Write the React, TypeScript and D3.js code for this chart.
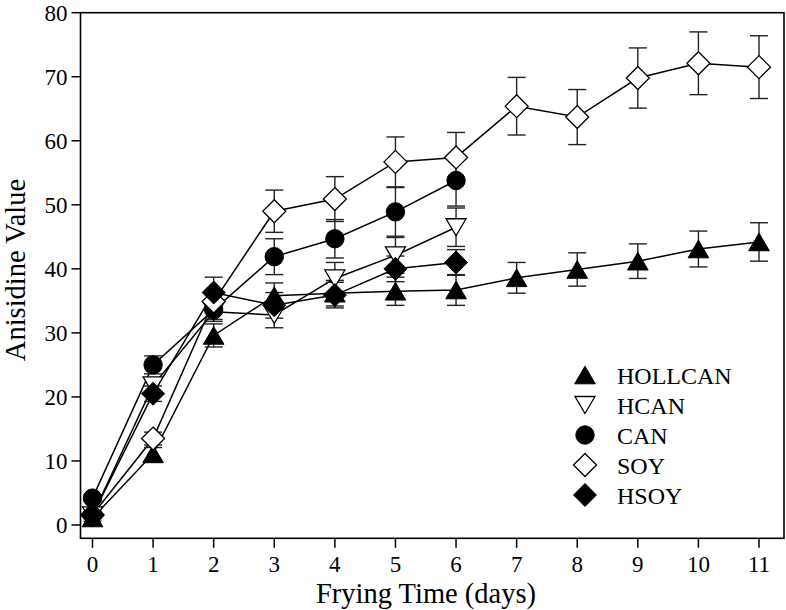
import React from "react";
import * as d3 from "d3";

const days = [0, 1, 2, 3, 4, 5, 6, 7, 8, 9, 10, 11];
const xTicks = [0, 1, 2, 3, 4, 5, 6, 7, 8, 9, 10, 11];
const yTicks = [0, 10, 20, 30, 40, 50, 60, 70, 80];

const hollcan = [1.1, 11.1, 29.6, 35.8, 36.2, 36.5, 36.7, 38.6, 39.9, 41.2, 43.1, 44.2];
const hollcanErr = [0.5, 1.0, 1.8, 2.0, 2.0, 2.2, 2.4, 2.4, 2.6, 2.7, 2.8, 3.0];
const hcan = [1.5, 21.8, 33.3, 32.8, 38.5, 42.1, 46.5];
const hcanErr = [0.5, 1.2, 1.5, 2.0, 2.5, 2.8, 3.0];
const can = [4.2, 25.0, 33.6, 41.9, 44.7, 48.9, 53.8];
const canErr = [0.5, 1.4, 1.5, 2.8, 3.0, 3.8, 4.0];
const soy = [1.6, 13.5, 34.9, 49.0, 50.9, 56.7, 57.4, 65.4, 63.7, 69.8, 72.1, 71.5];
const soyErr = [0.5, 1.0, 1.5, 3.3, 3.5, 3.9, 3.9, 4.5, 4.3, 4.7, 4.9, 4.9];
const hsoy = [1.5, 20.5, 36.3, 34.3, 35.9, 40.0, 41.0];
const hsoyErr = [0.5, 1.2, 2.4, 2.0, 2.0, 2.0, 2.0];

const seriesNames = ["HOLLCAN", "HCAN", "CAN", "SOY", "HSOY"];
const seriesValues = [hollcan, hcan, can, soy, hsoy];
const seriesErrors = [hollcanErr, hcanErr, canErr, soyErr, hsoyErr];
const seriesShapes = ["triUp", "triDown", "circle", "diamondOpen", "diamondFilled"];

const FONT = "'Liberation Serif', 'Times New Roman', serif";

function Marker({ shape, cx, cy }: { shape: string; cx: number; cy: number }) {
  const sw = 1.3;
  if (shape === "circle") {
    return <circle cx={cx} cy={cy} r={9.2} fill="#000" stroke="#000" strokeWidth={1} />;
  }
  if (shape === "triUp") {
    const w = 10.3, h = 17.6;
    const p = `M${cx},${cy - h / 2}L${cx + w},${cy + h / 2}L${cx - w},${cy + h / 2}Z`;
    return <path d={p} fill="#000" stroke="#000" strokeWidth={1} strokeLinejoin="miter" />;
  }
  if (shape === "triDown") {
    const w = 10, h = 17;
    const p = `M${cx},${cy + h / 2}L${cx + w},${cy - h / 2}L${cx - w},${cy - h / 2}Z`;
    return <path d={p} fill="#fff" stroke="#000" strokeWidth={sw} />;
  }
  const r = 11.5;
  const p = `M${cx},${cy - r}L${cx + r},${cy}L${cx},${cy + r}L${cx - r},${cy}Z`;
  if (shape === "diamondOpen") {
    return <path d={p} fill="#fff" stroke="#000" strokeWidth={sw} />;
  }
  return <path d={p} fill="#000" stroke="#000" strokeWidth={1} />;
}

export default function App() {
  const W = 786, H = 610;
  const frame = { left: 80.5, right: 784, top: 12.7, bottom: 538.3 };
  const x = d3.scaleLinear().domain([0, 11]).range([92.5, 759]);
  const y = d3.scaleLinear().domain([0, 80]).range([525, 12.7]);
  const line = d3
    .line<number>()
    .x((_, i) => x(days[i]))
    .y((d) => y(d));

  const cap = 9;

  return (
    <svg
      width={W}
      height={H}
      style={{ position: "absolute", left: 0, top: 0, background: "#fff" }}
      fontFamily={FONT}
    >
      <rect x={0} y={0} width={W} height={H} fill="#fff" />
      {/* frame */}
      <rect
        x={frame.left}
        y={frame.top}
        width={frame.right - frame.left}
        height={frame.bottom - frame.top}
        fill="none"
        stroke="#000"
        strokeWidth={1.6}
      />
      {/* y ticks */}
      {yTicks.map((t) => (
        <g key={"y" + t}>
          <line x1={frame.left - 9} x2={frame.left} y1={y(t)} y2={y(t)} stroke="#000" strokeWidth={1.5} />
          <text x={frame.left - 13} y={y(t)} dy="0.34em" textAnchor="end" fontSize={23}>
            {t}
          </text>
        </g>
      ))}
      {/* x ticks */}
      {xTicks.map((t) => (
        <g key={"x" + t}>
          <line x1={x(t)} x2={x(t)} y1={frame.bottom} y2={frame.bottom + 9.5} stroke="#000" strokeWidth={1.5} />
          <text x={x(t)} y={572} textAnchor="middle" fontSize={23}>
            {t}
          </text>
        </g>
      ))}
      {/* axis titles */}
      <text x={426} y={603} textAnchor="middle" fontSize={28.5}>
        Frying Time (days)
      </text>
      <text
        transform={`translate(25,270) rotate(-90)`}
        textAnchor="middle"
        fontSize={28.5}
      >
        Anisidine Value
      </text>

      {/* lines */}
      {seriesValues.map((vals, si) => (
        <path key={"l" + si} d={line(vals) || ""} fill="none" stroke="#000" strokeWidth={1.5} />
      ))}
      {/* error bars */}
      {seriesValues.map((vals, si) =>
        vals.map((v, i) => {
          const e = seriesErrors[si][i];
          const cx = x(days[i]);
          const y1 = y(v + e), y2 = y(v - e);
          return (
            <g key={`e${si}-${i}`} stroke="#222" strokeWidth={1.4}>
              <line x1={cx} x2={cx} y1={y1} y2={y2} />
              <line x1={cx - cap} x2={cx + cap} y1={y1} y2={y1} />
              <line x1={cx - cap} x2={cx + cap} y1={y2} y2={y2} />
            </g>
          );
        })
      )}
      {/* markers */}
      {seriesValues.map((vals, si) =>
        vals.map((v, i) => (
          <Marker key={`m${si}-${i}`} shape={seriesShapes[si]} cx={x(days[i])} cy={y(v)} />
        ))
      )}

      {/* legend */}
      {seriesNames.map((name, i) => {
        const by = 384 + i * 30;
        return (
          <g key={"lg" + name}>
            <Marker shape={seriesShapes[i]} cx={585} cy={by - 9} />
            <text x={617} y={by} fontSize={24}>
              {name}
            </text>
          </g>
        );
      })}
    </svg>
  );
}
